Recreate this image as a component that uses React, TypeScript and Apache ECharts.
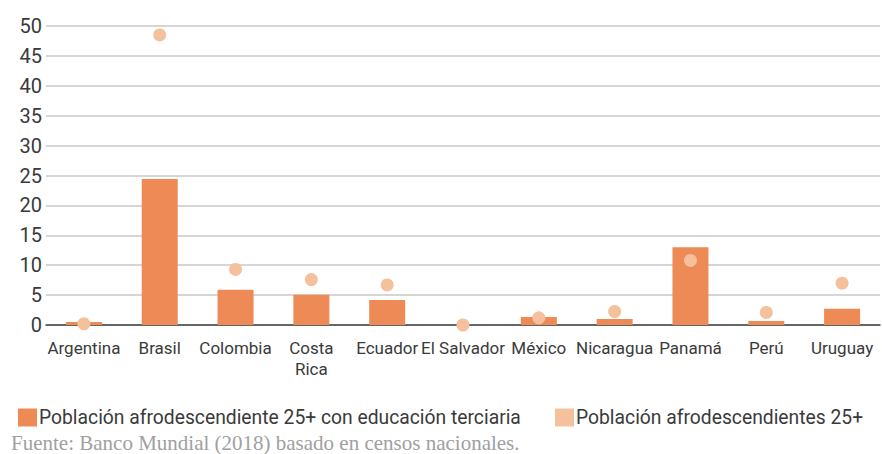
import React, { useEffect, useRef } from "react";
import * as echarts from "echarts";

const categories = ["Argentina", "Brasil", "Colombia", "Costa Rica", "Ecuador", "El Salvador", "México", "Nicaragua", "Panamá", "Perú", "Uruguay"];
const terciaria = [0.5, 24.4, 5.9, 5.05, 4.2, 0, 1.35, 1.0, 13.0, 0.65, 2.7];
const poblacion = [0.2, 48.5, 9.3, 7.6, 6.7, 0, 1.2, 2.25, 10.8, 2.1, 7.0];
const seriesNames = ["Población afrodescendiente 25+ con educación terciaria", "Población afrodescendientes 25+"];
const sourceText = "Fuente: Banco Mundial (2018) basado en censos nacionales.";

const FONT = "Roboto, 'Liberation Sans', sans-serif";
const TEXT = "#3a3a3a";

export default function App() {
  const ref = useRef<HTMLDivElement>(null);
  useEffect(() => {
    if (!ref.current) return;
    const chart = echarts.init(ref.current, null, { renderer: "svg" });
    const legendText = { fontFamily: FONT, fontSize: 19.3, color: TEXT, padding: [0, 0, 0, -3] };
    chart.setOption({
      animation: false,
      backgroundColor: "#ffffff",
      textStyle: { fontFamily: FONT },
      grid: { left: 46, right: 2, top: 26, bottom: 129, containLabel: false },
      legend: [
        {
          left: 13,
          top: 403,
          itemWidth: 19,
          itemHeight: 18,
          icon: "rect",
          textStyle: legendText,
          data: [seriesNames[0]],
        },
        {
          left: 550,
          top: 403,
          itemWidth: 19,
          itemHeight: 18,
          icon: "rect",
          textStyle: legendText,
          data: [seriesNames[1]],
        },
      ],
      xAxis: {
        type: "category",
        data: categories,
        axisLine: { lineStyle: { color: "#404040", width: 1.5 } },
        axisTick: { show: false },
        axisLabel: {
          interval: 0,
          color: TEXT,
          fontFamily: FONT,
          fontSize: 17,
          lineHeight: 21,
          margin: 12,
          formatter: (v: string) => (v === "Costa Rica" ? "Costa\nRica" : v),
        },
      },
      yAxis: {
        type: "value",
        min: 0,
        max: 50,
        interval: 5,
        axisLine: { show: false },
        axisTick: { show: false },
        splitLine: { lineStyle: { color: "#c8c8c8", width: 1.5 } },
        axisLabel: { color: TEXT, fontFamily: FONT, fontSize: 20, margin: 4 },
      },
      series: [
        {
          name: seriesNames[0],
          type: "bar",
          data: terciaria,
          barWidth: 36,
          itemStyle: { color: "#ED8A56" },
        },
        {
          name: seriesNames[1],
          type: "scatter",
          data: poblacion,
          symbolSize: 13,
          itemStyle: { color: "#F5C09C", opacity: 1 },
        },
      ],
      graphic: [
        {
          type: "text",
          left: 11,
          top: 432,
          style: {
            text: sourceText,
            fill: "#a0a0a0",
            font: "21px 'Liberation Serif', 'DejaVu Serif', serif",
          },
        },
      ],
    });
    return () => chart.dispose();
  }, []);
  return (
    <div
      ref={ref}
      style={{ position: "fixed", left: 0, top: 0, width: 882, height: 454 }}
    />
  );
}
